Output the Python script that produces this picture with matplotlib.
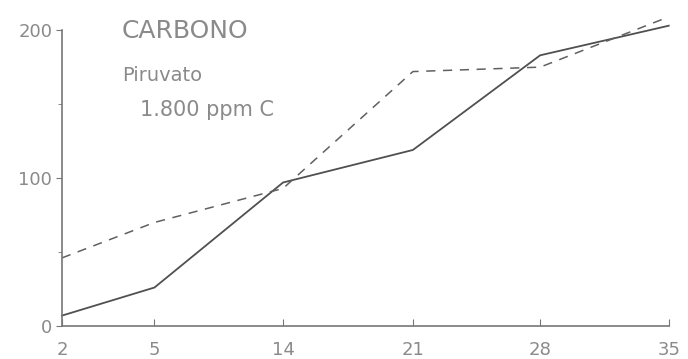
import numpy as np
import matplotlib.pyplot as plt

# days of incubation and carbon values
dias = ['2', '5', '14', '21', '28', '35']
solida = [7, 26, 97, 119, 183, 203]
tracejada = [46, 70, 93, 172, 175, 209]

# the first interval is drawn shorter than the others
xpos = [0, 0.72, 1.72, 2.73, 3.72, 4.72]

fig = plt.figure(figsize=(6.88, 3.59), dpi=100)
ax = fig.add_axes([0.090, 0.092, 0.882, 0.824])

cinza = '#8a8a8a'
ax.plot(xpos, solida, '-', color='#505050', lw=1.3, clip_on=False)
ax.plot(xpos, tracejada, '--', color='#606060', lw=1.1, dashes=(6, 5),
        clip_on=False)

ax.set_xlim(0, xpos[-1])
ax.set_ylim(0, 200)

ax.spines['top'].set_visible(False)
ax.spines['right'].set_visible(False)
for s in ['left', 'bottom']:
    ax.spines[s].set_color('#777777')
    ax.spines[s].set_linewidth(1.2)

ax.set_xticks(xpos)
ax.set_xticklabels(dias)
ax.set_yticks([0, 100, 200])
ax.set_yticks([50, 150], minor=True)
ax.tick_params(axis='x', direction='in', length=5, color='#777777',
               labelsize=13, labelcolor=cinza, pad=11)
ax.tick_params(axis='y', direction='out', length=4, color='#777777',
               labelsize=13, labelcolor=cinza, pad=3)
ax.tick_params(axis='y', which='minor', length=3, color='#777777')

fig.text(0.177, 0.915, 'CARBONO', fontsize=18, color=cinza, va='center')
fig.text(0.177, 0.790, 'Piruvato', fontsize=14, color=cinza, va='center')
fig.text(0.203, 0.693, '1.800 ppm C', fontsize=15, color=cinza, va='center')

plt.savefig('out.png')
